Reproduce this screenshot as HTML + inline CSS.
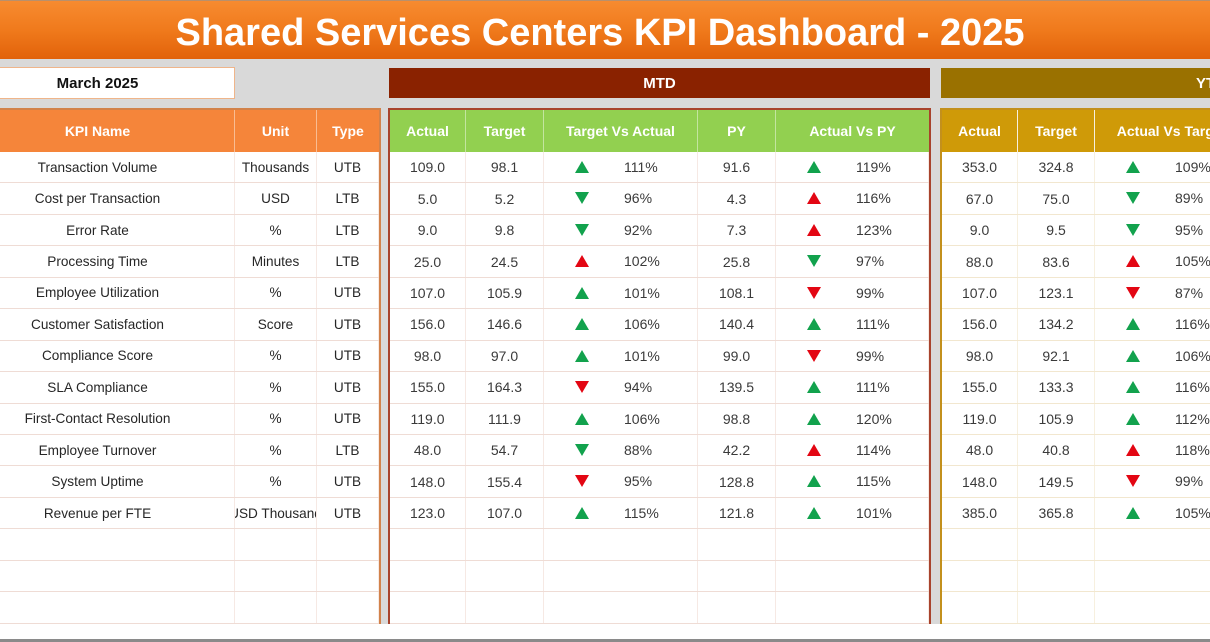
<!DOCTYPE html>
<html><head><meta charset="utf-8">
<style>
*{box-sizing:border-box;margin:0;padding:0}
body{width:1210px;height:642px;overflow:hidden;background:#fff;font-family:"Liberation Sans",Arial,sans-serif;position:relative}
.title{position:absolute;left:0;top:0;width:1210px;height:59px;background:linear-gradient(#f78b30,#f07a1c 50%,#e2620a);border-top:1px solid #b9906c;color:#fff;font-weight:bold;font-size:38px;text-align:center;line-height:64px;padding-right:10px;overflow:hidden}
.gray{position:absolute;left:0;top:59px;width:1210px;height:565px;background:#d9d9d9}
.bline{position:absolute;left:0;top:639px;width:1210px;height:3px;background:#8a8a8a}
.date{position:absolute;left:-40px;top:67px;width:275px;height:32px;background:#fff;border:1px solid #efb58a;font-weight:bold;font-size:15px;color:#111;display:flex;align-items:center;justify-content:center;padding-left:0}
.bar{position:absolute;top:68px;height:30px;color:#fff;font-weight:bold;font-size:15px;display:flex;align-items:center;justify-content:center}
.sec{position:absolute;top:108px;height:516px;background:#fff;border:2px solid;border-bottom:0;overflow:hidden}
.row{display:flex;height:31.45px;border-bottom:1px solid #efdcd5}
.hdr{display:flex;height:42px;color:#fff;font-weight:bold;font-size:14px}
.hdr .c{border-right:1px solid rgba(255,255,255,0.45)}
.c{flex:none;display:flex;align-items:center;justify-content:center;white-space:nowrap;overflow:hidden;border-right:1px solid #f6e9e4;position:relative}
.row .c{font-size:14px;color:#3a3a3a}
.L .row .c{color:#262626;font-size:13.6px}
.k{width:274px}.u{width:82px}.t{width:62px}
.a{width:76px}.g{width:78px}.v{width:154px}.p{width:78px}.w{width:153px}
.ya{width:76px}.yg{width:77px}.yv{width:154px}.yx{width:80px}
.i svg{position:absolute;left:31px;top:9px}
.i span{position:absolute;left:80px;top:0;line-height:30px}
.Y .row{border-bottom-color:#f2e7cf}
.Y .c{border-right-color:#f7f0df}
</style></head><body>
<div class="title">Shared Services Centers KPI Dashboard - 2025</div>
<div class="gray"></div>
<div class="bline"></div>
<div class="date">March 2025</div>
<div class="bar" style="left:389px;width:541px;background:#8a2200">MTD</div>
<div class="bar" style="left:941px;width:540px;background:#9a7100">YTD</div>

<svg width="0" height="0" style="position:absolute">
<defs>
<polygon id="up" points="7,0 14,12 0,12"/>
<polygon id="dn" points="0,0 14,0 7,12"/>
</defs>
</svg>

<!-- LEFT TABLE -->
<div class="sec L" style="left:-39px;width:420px;border-color:#d2824a;border-left:0">
<div class="hdr" style="background:#f5853a"><div class="c k" style="padding-left:0">KPI Name</div><div class="c u">Unit</div><div class="c t" style="border-right:0">Type</div></div>
<div class="row"><div class="c k">Transaction Volume</div><div class="c u">Thousands</div><div class="c t">UTB</div></div>
<div class="row"><div class="c k">Cost per Transaction</div><div class="c u">USD</div><div class="c t">LTB</div></div>
<div class="row"><div class="c k">Error Rate</div><div class="c u">%</div><div class="c t">LTB</div></div>
<div class="row"><div class="c k">Processing Time</div><div class="c u">Minutes</div><div class="c t">LTB</div></div>
<div class="row"><div class="c k">Employee Utilization</div><div class="c u">%</div><div class="c t">UTB</div></div>
<div class="row"><div class="c k">Customer Satisfaction</div><div class="c u">Score</div><div class="c t">UTB</div></div>
<div class="row"><div class="c k">Compliance Score</div><div class="c u">%</div><div class="c t">UTB</div></div>
<div class="row"><div class="c k">SLA Compliance</div><div class="c u">%</div><div class="c t">UTB</div></div>
<div class="row"><div class="c k">First-Contact Resolution</div><div class="c u">%</div><div class="c t">UTB</div></div>
<div class="row"><div class="c k">Employee Turnover</div><div class="c u">%</div><div class="c t">LTB</div></div>
<div class="row"><div class="c k">System Uptime</div><div class="c u">%</div><div class="c t">UTB</div></div>
<div class="row"><div class="c k">Revenue per FTE</div><div class="c u">USD Thousand</div><div class="c t">UTB</div></div>
<div class="row"><div class="c k"></div><div class="c u"></div><div class="c t"></div></div>
<div class="row"><div class="c k"></div><div class="c u"></div><div class="c t"></div></div>
<div class="row"><div class="c k"></div><div class="c u"></div><div class="c t"></div></div>
</div>

<!-- MTD TABLE -->
<div class="sec M" style="left:388px;width:543px;border-color:#a8432c">
<div class="hdr" style="background:#92d050"><div class="c a">Actual</div><div class="c g">Target</div><div class="c v">Target Vs Actual</div><div class="c p">PY</div><div class="c w" style="border-right:0">Actual Vs PY</div></div>
<div class="row"><div class="c a">109.0</div><div class="c g">98.1</div><div class="c v i"><svg width="14" height="12"><use href="#up" fill="#12a24d"/></svg><span>111%</span></div><div class="c p">91.6</div><div class="c w i"><svg width="14" height="12"><use href="#up" fill="#12a24d"/></svg><span>119%</span></div></div>
<div class="row"><div class="c a">5.0</div><div class="c g">5.2</div><div class="c v i"><svg width="14" height="12"><use href="#dn" fill="#12a24d"/></svg><span>96%</span></div><div class="c p">4.3</div><div class="c w i"><svg width="14" height="12"><use href="#up" fill="#e30613"/></svg><span>116%</span></div></div>
<div class="row"><div class="c a">9.0</div><div class="c g">9.8</div><div class="c v i"><svg width="14" height="12"><use href="#dn" fill="#12a24d"/></svg><span>92%</span></div><div class="c p">7.3</div><div class="c w i"><svg width="14" height="12"><use href="#up" fill="#e30613"/></svg><span>123%</span></div></div>
<div class="row"><div class="c a">25.0</div><div class="c g">24.5</div><div class="c v i"><svg width="14" height="12"><use href="#up" fill="#e30613"/></svg><span>102%</span></div><div class="c p">25.8</div><div class="c w i"><svg width="14" height="12"><use href="#dn" fill="#12a24d"/></svg><span>97%</span></div></div>
<div class="row"><div class="c a">107.0</div><div class="c g">105.9</div><div class="c v i"><svg width="14" height="12"><use href="#up" fill="#12a24d"/></svg><span>101%</span></div><div class="c p">108.1</div><div class="c w i"><svg width="14" height="12"><use href="#dn" fill="#e30613"/></svg><span>99%</span></div></div>
<div class="row"><div class="c a">156.0</div><div class="c g">146.6</div><div class="c v i"><svg width="14" height="12"><use href="#up" fill="#12a24d"/></svg><span>106%</span></div><div class="c p">140.4</div><div class="c w i"><svg width="14" height="12"><use href="#up" fill="#12a24d"/></svg><span>111%</span></div></div>
<div class="row"><div class="c a">98.0</div><div class="c g">97.0</div><div class="c v i"><svg width="14" height="12"><use href="#up" fill="#12a24d"/></svg><span>101%</span></div><div class="c p">99.0</div><div class="c w i"><svg width="14" height="12"><use href="#dn" fill="#e30613"/></svg><span>99%</span></div></div>
<div class="row"><div class="c a">155.0</div><div class="c g">164.3</div><div class="c v i"><svg width="14" height="12"><use href="#dn" fill="#e30613"/></svg><span>94%</span></div><div class="c p">139.5</div><div class="c w i"><svg width="14" height="12"><use href="#up" fill="#12a24d"/></svg><span>111%</span></div></div>
<div class="row"><div class="c a">119.0</div><div class="c g">111.9</div><div class="c v i"><svg width="14" height="12"><use href="#up" fill="#12a24d"/></svg><span>106%</span></div><div class="c p">98.8</div><div class="c w i"><svg width="14" height="12"><use href="#up" fill="#12a24d"/></svg><span>120%</span></div></div>
<div class="row"><div class="c a">48.0</div><div class="c g">54.7</div><div class="c v i"><svg width="14" height="12"><use href="#dn" fill="#12a24d"/></svg><span>88%</span></div><div class="c p">42.2</div><div class="c w i"><svg width="14" height="12"><use href="#up" fill="#e30613"/></svg><span>114%</span></div></div>
<div class="row"><div class="c a">148.0</div><div class="c g">155.4</div><div class="c v i"><svg width="14" height="12"><use href="#dn" fill="#e30613"/></svg><span>95%</span></div><div class="c p">128.8</div><div class="c w i"><svg width="14" height="12"><use href="#up" fill="#12a24d"/></svg><span>115%</span></div></div>
<div class="row"><div class="c a">123.0</div><div class="c g">107.0</div><div class="c v i"><svg width="14" height="12"><use href="#up" fill="#12a24d"/></svg><span>115%</span></div><div class="c p">121.8</div><div class="c w i"><svg width="14" height="12"><use href="#up" fill="#12a24d"/></svg><span>101%</span></div></div>
<div class="row"><div class="c a"></div><div class="c g"></div><div class="c v"></div><div class="c p"></div><div class="c w"></div></div>
<div class="row"><div class="c a"></div><div class="c g"></div><div class="c v"></div><div class="c p"></div><div class="c w"></div></div>
<div class="row"><div class="c a"></div><div class="c g"></div><div class="c v"></div><div class="c p"></div><div class="c w"></div></div>
</div>

<!-- YTD TABLE -->
<div class="sec Y" style="left:940px;width:400px;border-color:#c3901c">
<div class="hdr" style="background:#cf9a08"><div class="c ya">Actual</div><div class="c yg">Target</div><div class="c yv">Actual Vs Target</div><div class="c yx"></div></div>
<div class="row"><div class="c ya">353.0</div><div class="c yg">324.8</div><div class="c yv i"><svg width="14" height="12"><use href="#up" fill="#12a24d"/></svg><span>109%</span></div><div class="c yx"></div></div>
<div class="row"><div class="c ya">67.0</div><div class="c yg">75.0</div><div class="c yv i"><svg width="14" height="12"><use href="#dn" fill="#12a24d"/></svg><span>89%</span></div><div class="c yx"></div></div>
<div class="row"><div class="c ya">9.0</div><div class="c yg">9.5</div><div class="c yv i"><svg width="14" height="12"><use href="#dn" fill="#12a24d"/></svg><span>95%</span></div><div class="c yx"></div></div>
<div class="row"><div class="c ya">88.0</div><div class="c yg">83.6</div><div class="c yv i"><svg width="14" height="12"><use href="#up" fill="#e30613"/></svg><span>105%</span></div><div class="c yx"></div></div>
<div class="row"><div class="c ya">107.0</div><div class="c yg">123.1</div><div class="c yv i"><svg width="14" height="12"><use href="#dn" fill="#e30613"/></svg><span>87%</span></div><div class="c yx"></div></div>
<div class="row"><div class="c ya">156.0</div><div class="c yg">134.2</div><div class="c yv i"><svg width="14" height="12"><use href="#up" fill="#12a24d"/></svg><span>116%</span></div><div class="c yx"></div></div>
<div class="row"><div class="c ya">98.0</div><div class="c yg">92.1</div><div class="c yv i"><svg width="14" height="12"><use href="#up" fill="#12a24d"/></svg><span>106%</span></div><div class="c yx"></div></div>
<div class="row"><div class="c ya">155.0</div><div class="c yg">133.3</div><div class="c yv i"><svg width="14" height="12"><use href="#up" fill="#12a24d"/></svg><span>116%</span></div><div class="c yx"></div></div>
<div class="row"><div class="c ya">119.0</div><div class="c yg">105.9</div><div class="c yv i"><svg width="14" height="12"><use href="#up" fill="#12a24d"/></svg><span>112%</span></div><div class="c yx"></div></div>
<div class="row"><div class="c ya">48.0</div><div class="c yg">40.8</div><div class="c yv i"><svg width="14" height="12"><use href="#up" fill="#e30613"/></svg><span>118%</span></div><div class="c yx"></div></div>
<div class="row"><div class="c ya">148.0</div><div class="c yg">149.5</div><div class="c yv i"><svg width="14" height="12"><use href="#dn" fill="#e30613"/></svg><span>99%</span></div><div class="c yx"></div></div>
<div class="row"><div class="c ya">385.0</div><div class="c yg">365.8</div><div class="c yv i"><svg width="14" height="12"><use href="#up" fill="#12a24d"/></svg><span>105%</span></div><div class="c yx"></div></div>
<div class="row"><div class="c ya"></div><div class="c yg"></div><div class="c yv"></div><div class="c yx"></div></div>
<div class="row"><div class="c ya"></div><div class="c yg"></div><div class="c yv"></div><div class="c yx"></div></div>
<div class="row"><div class="c ya"></div><div class="c yg"></div><div class="c yv"></div><div class="c yx"></div></div>
</div>
</body></html>
